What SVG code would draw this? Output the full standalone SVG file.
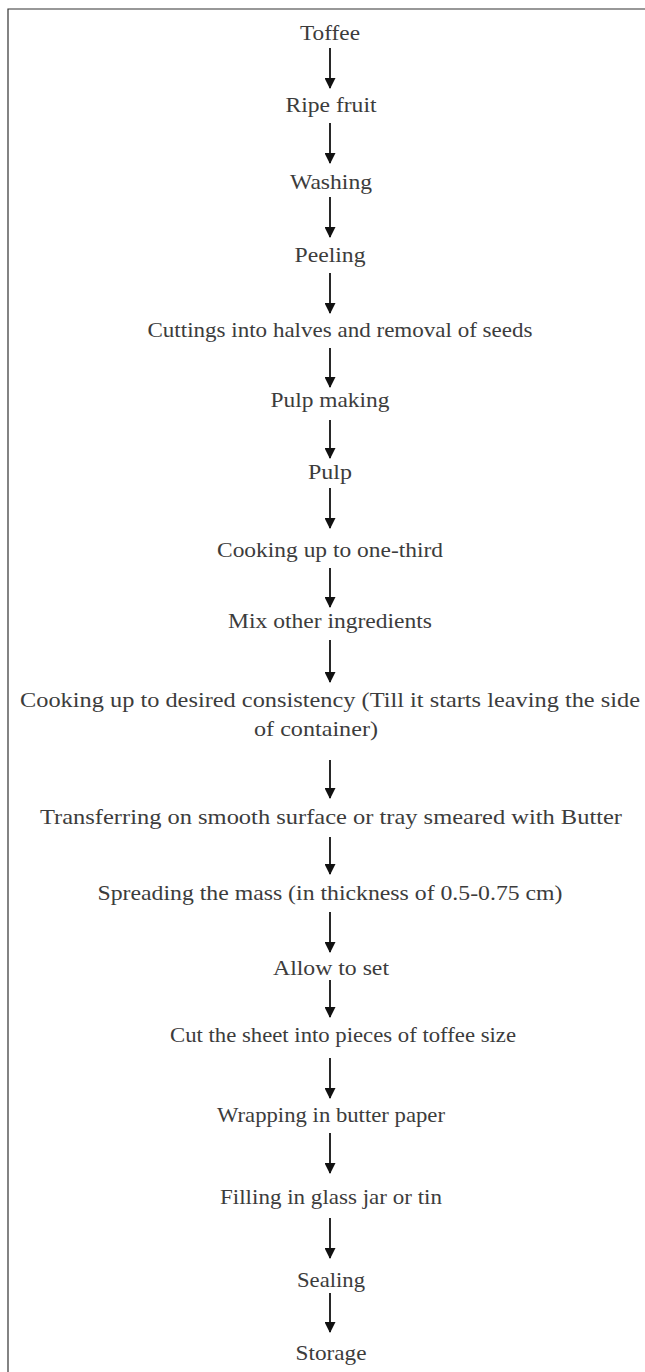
<svg xmlns="http://www.w3.org/2000/svg" width="645" height="1372" viewBox="0 0 645 1372">
<defs>
<style>
text{font-family:"Liberation Serif","Times New Roman",serif;font-size:21px;fill:#3c3c3c;text-anchor:middle}
.c line{stroke:#111;stroke-width:1.8}
</style>
<marker id="ah" viewBox="0 0 11 12" refX="11" refY="6" markerWidth="12" markerHeight="11" markerUnits="userSpaceOnUse" orient="auto">
<path d="M0,0 L12,6 L0,12 z" fill="#111"/>
</marker>
</defs>
<rect width="645" height="1372" fill="#fff"/>
<path d="M8,1372 V9 H645" fill="none" stroke="#333" stroke-width="1.2"/>
<g id="n1"><text x="330" y="40" textLength="60" lengthAdjust="spacingAndGlyphs">Toffee</text></g>
<g id="n2"><text x="331" y="112" textLength="91" lengthAdjust="spacingAndGlyphs">Ripe fruit</text></g>
<g id="n3"><text x="331" y="189" textLength="82" lengthAdjust="spacingAndGlyphs">Washing</text></g>
<g id="n4"><text x="330" y="262" textLength="71" lengthAdjust="spacingAndGlyphs">Peeling</text></g>
<g id="n5"><text x="340" y="337" textLength="385" lengthAdjust="spacingAndGlyphs">Cuttings into halves and removal of seeds</text></g>
<g id="n6"><text x="330" y="407" textLength="119" lengthAdjust="spacingAndGlyphs">Pulp making</text></g>
<g id="n7"><text x="330" y="479" textLength="44" lengthAdjust="spacingAndGlyphs">Pulp</text></g>
<g id="n8"><text x="330" y="557" textLength="226" lengthAdjust="spacingAndGlyphs">Cooking up to one-third</text></g>
<g id="n9"><text x="330" y="628" textLength="204" lengthAdjust="spacingAndGlyphs">Mix other ingredients</text></g>
<g id="n10"><text x="330" y="707" textLength="620" lengthAdjust="spacingAndGlyphs">Cooking up to desired consistency (Till it starts leaving the side</text><text x="316" y="736" textLength="124" lengthAdjust="spacingAndGlyphs">of container)</text></g>
<g id="n11"><text x="331" y="824" textLength="582" lengthAdjust="spacingAndGlyphs">Transferring on smooth surface or tray smeared with Butter</text></g>
<g id="n12"><text x="330" y="900" textLength="465" lengthAdjust="spacingAndGlyphs">Spreading the mass (in thickness of 0.5-0.75 cm)</text></g>
<g id="n13"><text x="331" y="975" textLength="116" lengthAdjust="spacingAndGlyphs">Allow to set</text></g>
<g id="n14"><text x="343" y="1042" textLength="346" lengthAdjust="spacingAndGlyphs">Cut the sheet into pieces of toffee size</text></g>
<g id="n15"><text x="331" y="1122" textLength="228" lengthAdjust="spacingAndGlyphs">Wrapping in butter paper</text></g>
<g id="n16"><text x="331" y="1204" textLength="222" lengthAdjust="spacingAndGlyphs">Filling in glass jar or tin</text></g>
<g id="n17"><text x="331" y="1287" textLength="68" lengthAdjust="spacingAndGlyphs">Sealing</text></g>
<g id="n18"><text x="331" y="1360" textLength="71" lengthAdjust="spacingAndGlyphs">Storage</text></g>
<g id="connectors" class="c">
<line x1="330" y1="48" x2="330" y2="88" marker-end="url(#ah)"/>
<line x1="330" y1="123" x2="330" y2="163" marker-end="url(#ah)"/>
<line x1="330" y1="197" x2="330" y2="237" marker-end="url(#ah)"/>
<line x1="330" y1="273" x2="330" y2="313" marker-end="url(#ah)"/>
<line x1="330" y1="348" x2="330" y2="387" marker-end="url(#ah)"/>
<line x1="330" y1="420" x2="330" y2="458" marker-end="url(#ah)"/>
<line x1="330" y1="488" x2="330" y2="528" marker-end="url(#ah)"/>
<line x1="330" y1="568" x2="330" y2="607" marker-end="url(#ah)"/>
<line x1="330" y1="640" x2="330" y2="682" marker-end="url(#ah)"/>
<line x1="330" y1="760" x2="330" y2="798" marker-end="url(#ah)"/>
<line x1="330" y1="837" x2="330" y2="874" marker-end="url(#ah)"/>
<line x1="330" y1="912" x2="330" y2="952" marker-end="url(#ah)"/>
<line x1="330" y1="980" x2="330" y2="1017" marker-end="url(#ah)"/>
<line x1="330" y1="1058" x2="330" y2="1098" marker-end="url(#ah)"/>
<line x1="330" y1="1133" x2="330" y2="1173" marker-end="url(#ah)"/>
<line x1="330" y1="1218" x2="330" y2="1258" marker-end="url(#ah)"/>
<line x1="330" y1="1293" x2="330" y2="1332" marker-end="url(#ah)"/>
</g>
</svg>
